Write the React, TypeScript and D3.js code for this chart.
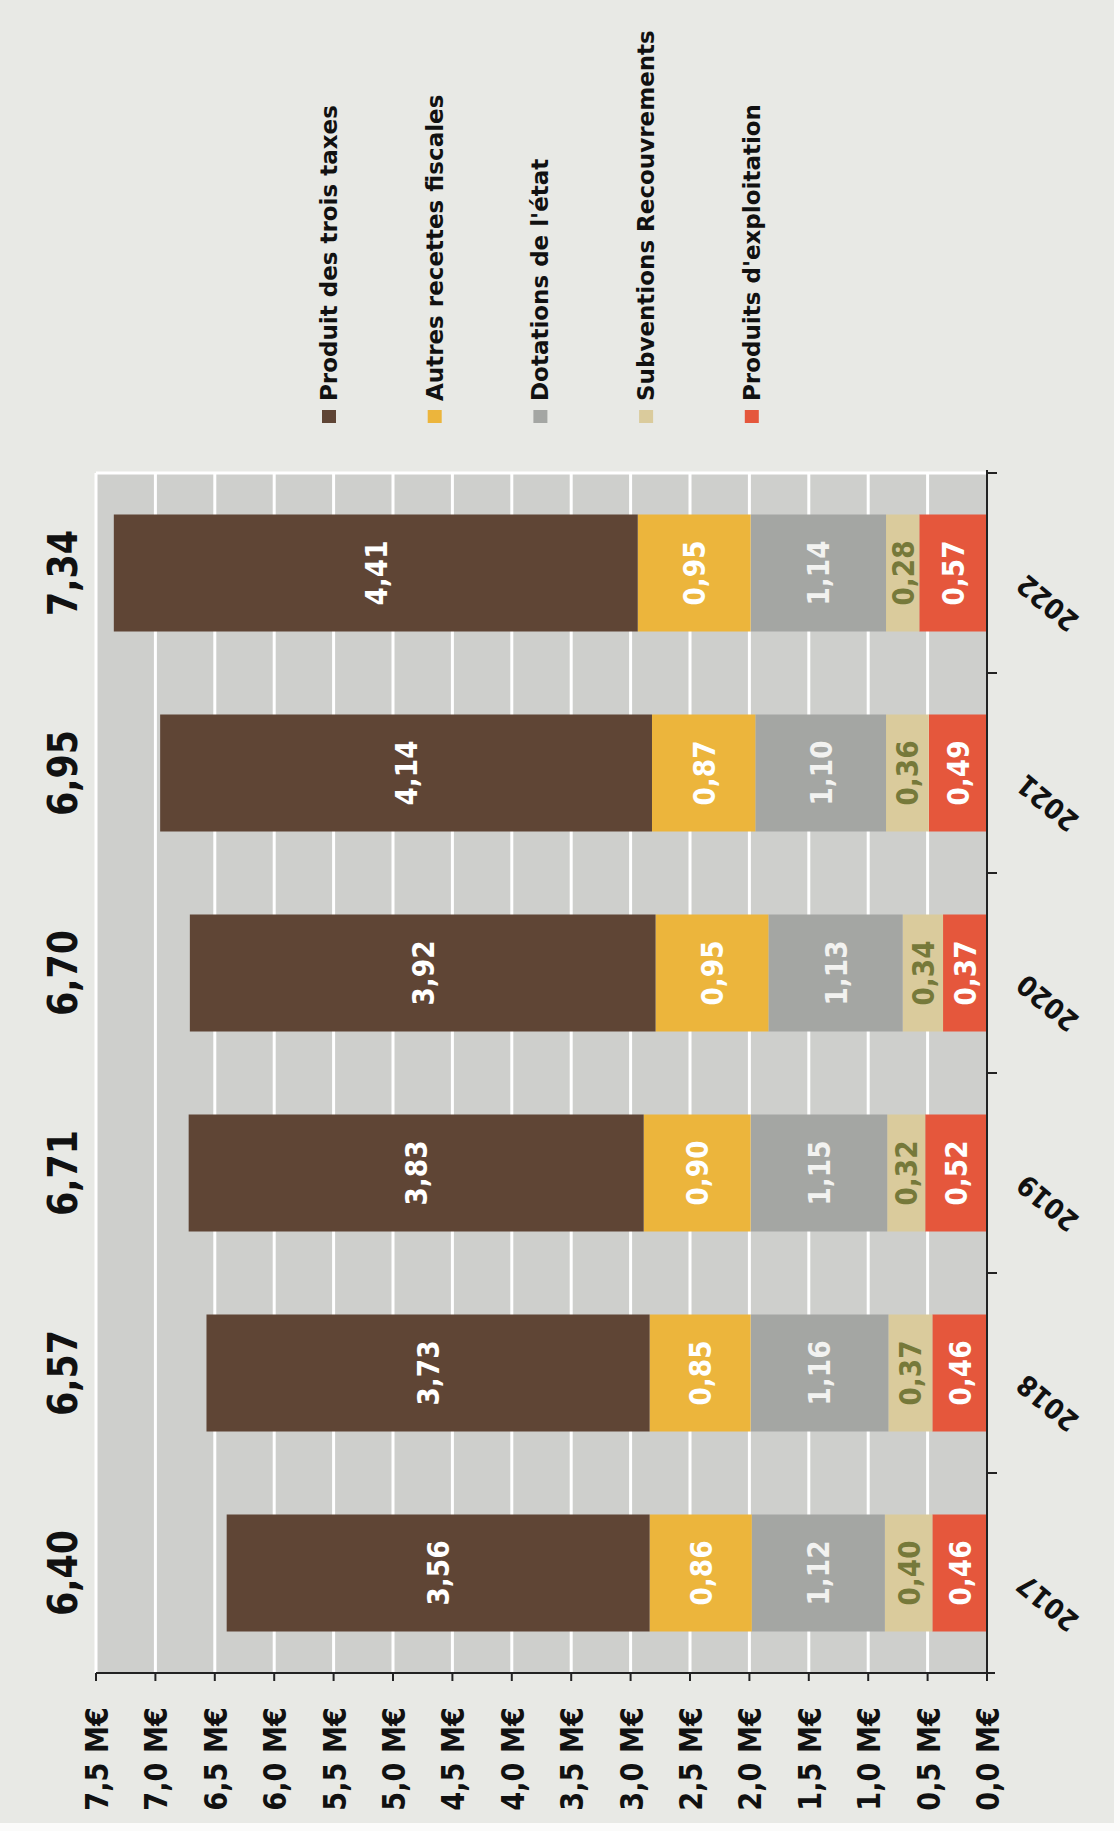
import React from 'react';
import * as d3 from 'd3';

const years = ['2017', '2018', '2019', '2020', '2021', '2022'];
const totals = [6.40, 6.57, 6.71, 6.70, 6.95, 7.34];
const produitTroisTaxes = [3.56, 3.73, 3.83, 3.92, 4.14, 4.41];
const autresRecettes = [0.86, 0.85, 0.90, 0.95, 0.87, 0.95];
const dotationsEtat = [1.12, 1.16, 1.15, 1.13, 1.10, 1.14];
const subventions = [0.40, 0.37, 0.32, 0.34, 0.36, 0.28];
const produitsExploitation = [0.46, 0.46, 0.52, 0.37, 0.49, 0.57];
const ticks = [0, 0.5, 1, 1.5, 2, 2.5, 3, 3.5, 4, 4.5, 5, 5.5, 6, 6.5, 7, 7.5];

const seriesNames = [
  'Produit des trois taxes',
  'Autres recettes fiscales',
  "Dotations de l'état",
  'Subventions Recouvrements',
  "Produits d'exploitation",
];
const seriesKeys = ['exploit', 'subv', 'dot', 'autres', 'trois'];
const colors: Record<string, string> = {
  trois: '#5f4535',
  autres: '#ecb53c',
  dot: '#a4a6a3',
  subv: '#dacb9c',
  exploit: '#e5573c',
};
const labelColors: Record<string, string> = {
  trois: '#ffffff',
  autres: '#ffffff',
  dot: '#f2f2f0',
  subv: '#76793a',
  exploit: '#ffffff',
};
const legendKeys = ['trois', 'autres', 'dot', 'subv', 'exploit'];

const W = 1120;
const H = 1831;
const FONT = "'DejaVu Sans', Verdana, sans-serif";
const fmt = (v: number, d: number) => v.toFixed(d).replace('.', ',');

export default function App() {
  const rows = years.map((y, i) => ({
    year: y,
    trois: produitTroisTaxes[i],
    autres: autresRecettes[i],
    dot: dotationsEtat[i],
    subv: subventions[i],
    exploit: produitsExploitation[i],
  }));
  const stack = d3.stack<any>().keys(seriesKeys)(rows);

  const x = d3.scaleLinear().domain([0, 7.5]).range([987, 96]);
  const y = d3
    .scaleBand<string>()
    .domain(years.slice().reverse())
    .range([473, 1673])
    .paddingInner(0.415)
    .paddingOuter(0.2075);

  const plotTop = 473;
  const plotBottom = 1673;
  const axisX = x(0);
  const sx = 0.85;

  const rotText = (
    key: string,
    tx: number,
    ty: number,
    text: string,
    size: number,
    fill: string,
    anchor: string,
    scale = sx,
    angle = -90,
  ) => (
    <text
      key={key}
      transform={`translate(${tx},${ty}) rotate(${angle}) scale(${scale},1)`}
      textAnchor={anchor}
      fontFamily={FONT}
      fontWeight="bold"
      fontSize={size}
      fill={fill}
    >
      {text}
    </text>
  );

  return (
    <svg
      width={W}
      height={H}
      style={{ position: 'absolute', left: 0, top: 0, display: 'block' }}
    >
      <rect x={0} y={0} width={W} height={H} fill="#fbfbfa" />
      <rect x={0} y={0} width={W - 6} height={H - 8} fill="#e8e9e5" />
      {/* plot background */}
      <rect
        x={x(7.5)}
        y={plotTop}
        width={axisX - x(7.5)}
        height={plotBottom - plotTop}
        fill="#cecfcc"
      />
      <line x1={x(7.5)} x2={axisX} y1={plotTop} y2={plotTop} stroke="#ffffff" strokeWidth={3} />
      {ticks.slice(1).map((t) => (
        <line
          key={'g' + t}
          x1={x(t)}
          x2={x(t)}
          y1={plotTop}
          y2={plotBottom}
          stroke="#ffffff"
          strokeWidth={3}
        />
      ))}
      {/* bars */}
      {stack.map((s) =>
        s.map((d, i) => (
          <rect
            key={s.key + i}
            x={x(d[1])}
            y={y(years[i])!}
            width={x(d[0]) - x(d[1])}
            height={y.bandwidth()}
            fill={colors[s.key]}
          />
        )),
      )}
      {/* segment labels */}
      {stack.map((s) =>
        s.map((d, i) =>
          rotText(
            'l' + s.key + i,
            (x(d[0]) + x(d[1])) / 2 + 11,
            y(years[i])! + y.bandwidth() / 2,
            fmt(d[1] - d[0], 2),
            31,
            labelColors[s.key],
            'middle',
          ),
        ),
      )}
      {/* totals */}
      {years.map((yr, i) =>
        rotText('t' + yr, 77, y(yr)! + y.bandwidth() / 2, fmt(totals[i], 2), 41, '#111111', 'middle'),
      )}
      {/* value axis */}
      <line x1={x(7.5)} x2={axisX + 8} y1={plotBottom} y2={plotBottom} stroke="#222" strokeWidth={2} />
      {ticks.map((t) => (
        <g key={'t' + t}>
          <line x1={x(t)} x2={x(t)} y1={plotBottom} y2={plotBottom + 8} stroke="#222" strokeWidth={2} />
          {rotText('tl' + t, x(t) + 12, 1707, fmt(t, 1) + ' M€', 32, '#111111', 'end')}
        </g>
      ))}
      {/* category axis */}
      <line x1={axisX} x2={axisX} y1={plotTop - 3} y2={plotBottom + 8} stroke="#222" strokeWidth={2} />
      {d3.range(years.length).map((i) => {
        const yy = plotTop + i * y.step();
        return <line key={'ct' + i} x1={axisX} x2={axisX + 10} y1={yy} y2={yy} stroke="#222" strokeWidth={2} />;
      })}
      {years.map((yr) =>
        rotText('y' + yr, axisX + 40, y(yr)! + y.bandwidth() / 2, yr, 28, '#111111', 'end', 0.9, -140),
      )}
      {/* legend */}
      {legendKeys.map((k, i) => {
        const cx = 329 + i * 105.7;
        return (
          <g key={'lg' + k}>
            <rect x={cx - 7} y={410} width={14} height={13} fill={colors[k]} />
            {rotText('lt' + k, cx + 8, 401, seriesNames[i], 23, '#111111', 'start', 1)}
          </g>
        );
      })}
    </svg>
  );
}
